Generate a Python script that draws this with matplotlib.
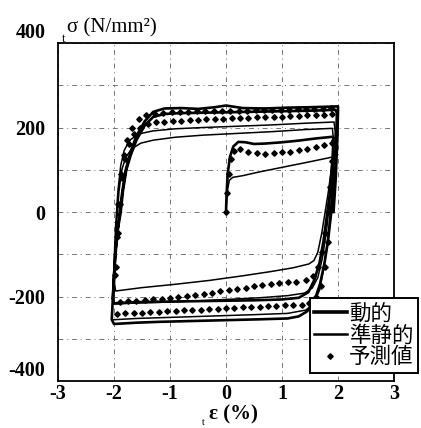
import matplotlib
matplotlib.use("Agg")
import matplotlib.pyplot as plt

plt.rcParams['font.family'] = ['Liberation Serif', 'DejaVu Sans']
plt.rcParams['axes.unicode_minus'] = False

# strain (%) / stress (N/mm^2) paths
dyn_eps = [
    0.0, 0.01, 0.03, 0.07, 0.13, 0.22, 0.35, 0.5, 0.7, 1.0, 1.3, 1.6, 1.9,
    1.92, 1.9, 1.85, 1.8, 1.74, 1.67, 1.58, 1.47, 1.3, 1.0, 0.5, 0.0, -0.5, -1.0, -1.5, -2.0,
    -2.02, -1.98, -1.93, -1.88, -1.84, -1.78, -1.7, -1.6, -1.45, -1.3, -1.1, -0.8, -0.4, 0.0,
    0.4, 0.8, 1.2, 1.6, 1.95,
    1.98, 1.97, 1.93, 1.88, 1.82, 1.76, 1.68, 1.58, 1.45, 1.3, 1.1, 0.6, 0.0, -0.6, -1.2, -1.6, -2.0,
    -2.04, -2.0, -1.95, -1.9, -1.85, -1.79, -1.71, -1.6, -1.45, -1.3, -1.1, -0.8, -0.5, -0.2, 0.0,
    0.3, 0.7, 1.1, 1.5, 2.0,
    2.0, 1.99, 1.96, 1.92,
]
dyn_sig = [
    0, 40, 90, 130, 155, 166, 165, 161, 162, 165, 169, 174, 178,
    175, 120, 40, -10, -70, -120, -160, -190, -203, -207, -209, -210, -211, -212, -213, -216,
    -205, -100, -40, 0, 50, 100, 135, 170, 205, 225, 232, 234, 235, 236,
    237, 238, 239, 240, 242,
    235, 180, 80, 0, -70, -120, -170, -210, -235, -247, -252, -254, -256, -258, -260, -262, -265,
    -255, -150, -60, 0, 50, 100, 140, 180, 215, 237, 245, 246, 244, 248, 252,
    246, 245, 247, 248, 250,
    240, 180, 80, 0,
]

qs_eps = [
    0.0, 0.01, 0.03, 0.06, 0.12, 0.3, 0.6, 0.9, 1.2, 1.5, 1.9,
    1.9, 1.88, 1.83, 1.77, 1.71, 1.64, 1.57, 1.48, 1.2, 0.8, 0.3, -0.3, -0.9, -1.5, -1.97,
    -1.99, -1.98, -1.95, -1.91, -1.86, -1.79, -1.68, -1.52, -1.3, -0.9, -0.4, 0.2, 0.8, 1.4, 1.9,
    1.92, 1.9, 1.85, 1.79, 1.72, 1.64, 1.54, 1.4, 1.1, 0.6, 0.0, -0.6, -1.2, -1.7, -2.0,
    -2.01, -2.0, -1.97, -1.93, -1.88, -1.82, -1.72, -1.55, -1.3, -0.9, -0.4, 0.2, 0.8, 1.4, 1.93,
    1.95, 1.93, 1.88, 1.82, 1.75, 1.67, 1.57, 1.43, 1.1, 0.5, -0.2, -0.9, -1.6, -2.01,
]
qs_sig = [
    0, 25, 55, 75, 82, 86, 95, 103, 111, 119, 130,
    130, 100, 50, 0, -50, -95, -115, -123, -132, -141, -151, -162, -171, -179, -187,
    -170, -100, -20, 50, 100, 130, 150, 163, 170, 177, 182, 186, 190, 195, 198,
    170, 100, 20, -50, -110, -155, -180, -192, -198, -203, -207, -211, -214, -216, -218,
    -200, -120, -30, 50, 110, 145, 170, 185, 192, 197, 200, 203, 206, 210, 213,
    190, 110, 20, -60, -130, -185, -215, -232, -240, -243, -246, -249, -252, -255,
]

pred_eps = [
    0.0, 0.02, 0.05, 0.09, 0.15, 0.25, 0.4, 0.55, 0.7, 0.85, 1.0, 1.15, 1.3, 1.45, 1.6, 1.75, 1.9,
    1.9, 1.86, 1.82, 1.77, 1.71, 1.64, 1.55, 1.42,
    1.25, 1.1, 0.95, 0.8, 0.65, 0.5, 0.35, 0.2, 0.05, -0.1, -0.25, -0.4, -0.55, -0.7, -0.85,
    -1.0, -1.15, -1.3, -1.45, -1.6, -1.75, -1.9,
    -1.96, -1.93, -1.9, -1.86, -1.81, -1.74, -1.65, -1.54, -1.4,
    -1.25, -1.1, -0.95, -0.8, -0.65, -0.5, -0.35, -0.2, -0.05, 0.1, 0.25, 0.4, 0.55, 0.7, 0.85,
    1.0, 1.15, 1.3, 1.45, 1.6, 1.75, 1.9,
    1.93, 1.91, 1.87, 1.82, 1.76, 1.69, 1.6, 1.49, 1.36,
    1.2, 1.05, 0.9, 0.75, 0.6, 0.45, 0.3, 0.15, 0.0, -0.15, -0.3, -0.45, -0.6, -0.75, -0.9,
    -1.05, -1.2, -1.35, -1.5, -1.65, -1.8, -1.95,
    -1.98, -1.95, -1.92, -1.88, -1.83, -1.76, -1.67, -1.56, -1.42,
    -1.27, -1.12, -0.97, -0.82, -0.67, -0.52, -0.37, -0.22, -0.07, 0.08, 0.23, 0.38, 0.53, 0.68,
    0.83, 0.98, 1.13, 1.28, 1.43, 1.58, 1.73, 1.88,
]
pred_sig = [
    0, 45, 90, 125, 145, 148, 142, 139, 138, 139, 141, 143, 146, 150, 155, 159, 163,
    120, 60, 0, -50, -95, -130, -152, -162,
    -165, -166, -168, -171, -173, -176, -179, -182, -185, -188, -191, -194, -197, -199, -201,
    -203, -205, -207, -208, -210, -211, -213,
    -130, -50, 20, 80, 125, 160, 185, 200, 208,
    212, 214, 215, 216, 217, 218, 219, 220, 221, 222, 222, 223, 224, 225, 226,
    226, 227, 228, 229, 229, 230, 231,
    170, 90, 10, -70, -130, -175, -202, -215, -220,
    -220, -221, -222, -223, -224, -225, -226, -227, -228, -229, -230, -231, -232, -233, -234,
    -235, -236, -237, -238, -239, -240, -241,
    -150, -60, 20, 90, 135, 170, 200, 220, 230,
    233, 235, 236, 237, 237, 238, 238, 239, 239, 240, 240, 240, 241, 241, 242,
    242, 242, 243, 243, 244, 244, 245,
]

labels = ['動的', '準静的', '予測値']

W, H = 421, 428
fig = plt.figure(figsize=(W / 100, H / 100), dpi=100)
ax = fig.add_axes([58 / W, 47 / H, 336 / W, 338 / H])

l1, = ax.plot(dyn_eps, dyn_sig, color='black', lw=1.9, solid_joinstyle='round')
l2, = ax.plot(qs_eps, qs_sig, color='black', lw=1.1)
l3, = ax.plot(pred_eps, pred_sig, ls='none', marker='D', ms=2.8, color='black')

ax.set_xlim(-3, 3)
ax.set_ylim(-400, 400)
ax.set_xticks(range(-3, 4))
ax.set_yticks([-400, -200, 0, 200, 400])
ax.set_yticks([-300, -100, 100, 300], minor=True)
ax.grid(which='both', color='0.45', lw=0.7, ls=(0, (5, 4, 1, 4)))
ax.tick_params(which='both', length=0)
ax.tick_params(axis='y', pad=9)
ax.tick_params(axis='x', pad=2)
for t in ax.get_xticklabels() + ax.get_yticklabels():
    t.set_fontsize(14.5)
    t.set_fontweight('bold')
ylabs = ax.get_yticklabels()
ylabs[0].set_va('bottom')
ylabs[-1].set_va('bottom')
for sp in ax.spines.values():
    sp.set_linewidth(1.3)

# axis titles sit outside the frame like in the original
fig.text(67 / W, 1 - 32 / H, 'σ (N/mm²)', fontsize=15, va='baseline')
fig.text(62 / W, 1 - 42 / H, 't', fontsize=9, va='baseline')
fig.text(209 / W, 1 - 419 / H, 'ε (%)', fontsize=15, fontweight='bold', va='baseline')
fig.text(202 / W, 1 - 425 / H, 't', fontsize=7, va='baseline')

leg = ax.legend([l1, l2, l3], labels, loc='upper left',
                bbox_to_anchor=(310 / W, 1 - 298 / H), bbox_transform=fig.transFigure,
                prop={'family': ['Noto Sans CJK JP', 'DejaVu Sans'], 'size': 15.5},
                fancybox=False, edgecolor='black', framealpha=1,
                borderpad=0.2, labelspacing=0.0, handlelength=1.5,
                handletextpad=0.1, borderaxespad=0)
leg.get_frame().set_linewidth(1.4)
leg.get_lines()[0].set_linewidth(2.6)
leg.get_lines()[1].set_linewidth(1.8)

fig.savefig('out.png', dpi=100)
